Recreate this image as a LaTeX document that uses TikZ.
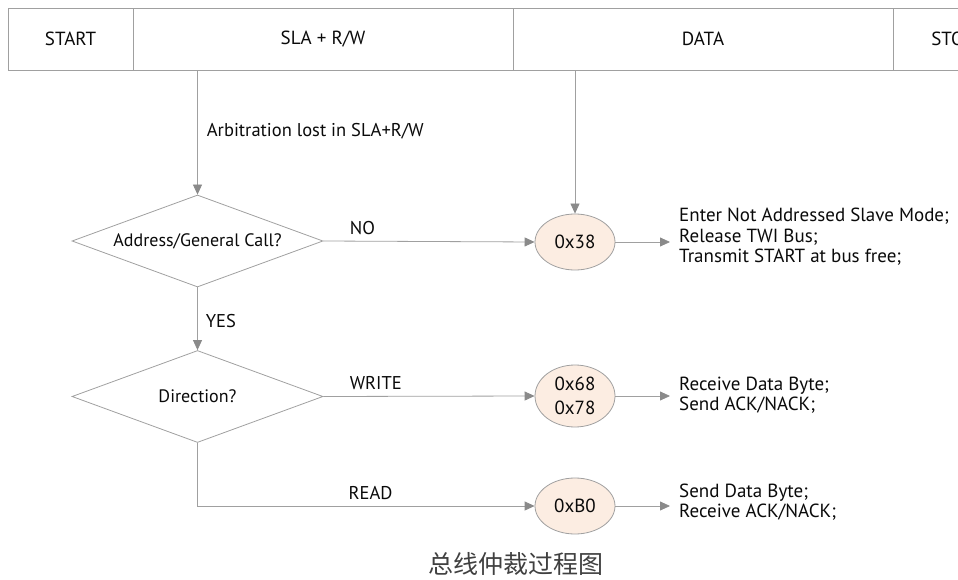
\documentclass[tikz,border=0pt]{standalone}
\usepackage{fontspec}
\setmainfont{PT Sans}
\newfontfamily\cjk{Noto Sans CJK SC}
\usetikzlibrary{shapes.geometric,arrows.meta}
\definecolor{lin}{HTML}{A0A0A0}
\definecolor{tip}{HTML}{8A8A8A}
\definecolor{peach}{HTML}{FCEDE2}
\definecolor{txt}{HTML}{0A0A0A}
\begin{document}
\begin{tikzpicture}[x=1pt,y=-1pt,
  every node/.style={font=\fontsize{18.5}{21}\selectfont, text=txt},
  hcell/.style={draw=lin, line width=0.8pt, rectangle, minimum height=62pt, inner sep=0pt, font=\fontsize{19}{21}\selectfont},
  decide/.style={draw=lin, line width=0.8pt, diamond, aspect=2.7, minimum width=251pt, minimum height=92pt, inner sep=0pt, font=\fontsize{18}{21}\selectfont},
  state/.style={draw=lin, line width=0.8pt, ellipse, fill=peach, minimum width=80pt, minimum height=56pt, inner sep=0pt, align=center, font=\fontsize{19}{24}\selectfont},
  action/.style={anchor=west, inner sep=0pt, align=left, font=\fontsize{19}{20.5}\selectfont},
  lbl/.style={inner sep=0pt},
  conn/.style={draw=lin, line width=0.8pt, -{Triangle[length=10pt,width=9pt,fill=tip,color=tip]}},
  plain/.style={draw=lin, line width=0.8pt}]
\useasboundingbox (0,0) rectangle (958,580);
\clip (0,0) rectangle (958,580);

% header
\node[hcell, minimum width=125pt] (hstart) at (70.5,39) {START};
\node[hcell, minimum width=380pt] (hsla) at (323,39) {SLA + R/W};
\node[hcell, minimum width=380pt] (hdata) at (703,39) {DATA};
\node[hcell, minimum width=120pt] (hstop) at (953,39) {STOP};

% decisions
\node[decide] (d1) at (197.5,241) {Address/General Call?};
\node[decide] (d2) at (197.5,396.5) {Direction?};

% states
\node[state] (e1) at (575,242) {0x38};
\node[state, minimum height=62pt] (e2) at (575,396) {0x68\\0x78};
\node[state] (e3) at (575,506) {0xB0};

% actions
\node[action] (t1) at (679,237) {Enter Not Addressed Slave Mode;\\Release TWI Bus;\\Transmit START at bus free;};
\node[action] (t2) at (679,395) {Receive Data Byte;\\Send ACK/NACK;};
\node[action] (t3) at (679,502) {Send Data Byte;\\Receive ACK/NACK;};

% connectors
\draw[conn] (d1 |- hsla.south) -- node[lbl, anchor=west, xshift=9pt, pos=0.49] {Arbitration lost in SLA+R/W} (d1.north);
\draw[conn] (e1 |- hdata.south) -- (e1.north);
\draw[conn] (d1.east) -- node[lbl, pos=0, anchor=south west, xshift=26pt, yshift=6pt] {NO} (e1.west);
\draw[conn] (e1.east) -- ([xshift=-9pt]t1.west |- e1.east);
\draw[conn] (d1.south) -- node[lbl, anchor=west, xshift=8pt, pos=0.53] {YES} (d2.north);
\draw[conn] (d2.east) -- node[lbl, pos=0, anchor=south west, xshift=26pt, yshift=6pt] {WRITE} (e2.west);
\draw[conn] (e2.east) -- ([xshift=-9pt]t2.west |- e2.east);
\draw[conn] (d2.south) |- (e3.west);
\node[lbl, anchor=south west, xshift=151pt, yshift=6pt] (readlbl) at (d2.south |- e3.west) {READ};
\draw[conn] (e3.east) -- ([xshift=-9pt]t3.west |- e3.east);

% caption
\node[font=\cjk\fontsize{25}{28}\selectfont, text=black!75] (cap) at (516,564) {总线仲裁过程图};
\end{tikzpicture}
\end{document}
